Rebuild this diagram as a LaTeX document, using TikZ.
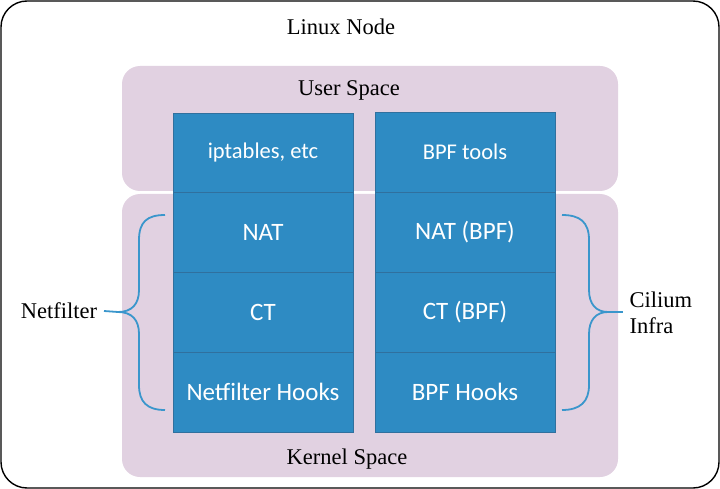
\documentclass[tikz,border=0pt]{standalone}
\usepackage{fontspec}
\setmainfont{Liberation Serif}
\newfontfamily\blockfont{Carlito}
\definecolor{spacebg}{HTML}{E1D1E1}
\definecolor{blockblue}{HTML}{2E8BC3}
\definecolor{blockline}{HTML}{30709E}
\definecolor{bracecol}{HTML}{3A96CC}
\begin{document}
\begin{tikzpicture}[x=1pt, y=-1pt,
		space/.style={fill=spacebg, rounded corners=18pt},
		block/.style={draw=blockline, fill=blockblue, line width=0.8pt, minimum width=180pt, minimum height=80pt, inner sep=0pt, text=white, font=\blockfont\fontsize{25}{29}\selectfont},
		toprow/.style={font=\blockfont\fontsize{22.5}{26}\selectfont},
		label/.style={font=\fontsize{22.5}{26}\selectfont},
		brace/.style={draw=bracecol, line width=1.8pt}]
		\useasboundingbox (0, 0) rectangle (720, 489);
		\draw[line width=1.4pt, rounded corners=26pt] (1, 1) rectangle (719, 488);
		\node[label] (linux) at (341, 27) {Linux Node};
		
		% user space / kernel space
		\fill[space] (122, 66) rectangle (618, 191);
		\fill[space] (122, 194) rectangle (618, 477);
		\node[label] (user) at (349, 90) {User Space};
		\node[label] (kernel) at (347, 459) {Kernel Space};
		
		% blocks
		\node[block, toprow] (left0) at (263, 153) {iptables, etc};
		\node[block, toprow] (right0) at (465, 152) {BPF tools};
		\foreach \y/\l/\r [count=\i] in {232/NAT/NAT (BPF), 312/CT/CT (BPF), 392/Netfilter Hooks/BPF Hooks}{
			\node[block] (left\i) at (263, \y) {\l};
			\node[block] (right\i) at (465, \y) {\r};
		}
		
		% braces
		\node[label] (netf) at (59, 311) {Netfilter};
		\node[label, align=left, anchor=west] (cilium) at (626, 313) {Cilium\\Infra};
		\draw[brace] (165, 215) .. controls (147, 215) and (139, 222) .. (139, 240) -- (139, 290)
			.. controls (139, 304) and (132, 312) .. (118, 312)
			.. controls (132, 312) and (139, 320) .. (139, 334) -- (139, 385)
			.. controls (139, 402) and (147, 410) .. (165, 410);
		\draw[brace] (118, 312) -- (netf.east -| 104, 0);
		\draw[brace] (562, 215) .. controls (580, 215) and (589, 222) .. (589, 240) -- (589, 290)
			.. controls (589, 304) and (596, 312) .. (608, 312)
			.. controls (596, 312) and (589, 320) .. (589, 334) -- (589, 385)
			.. controls (589, 402) and (580, 410) .. (562, 410);
		\draw[brace] (608, 312) -- (623, 312);
\end{tikzpicture}
\end{document}
